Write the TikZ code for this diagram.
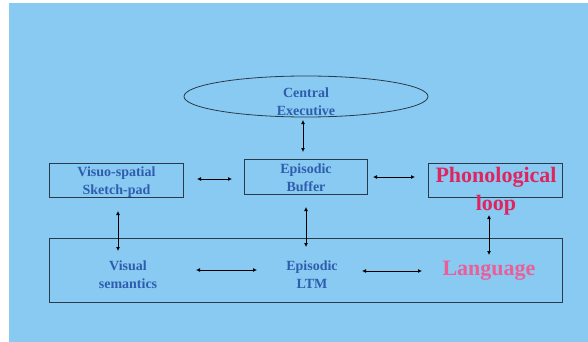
\documentclass[tikz,border=0pt]{standalone}
\usepackage{fontspec}
\setmainfont{Liberation Serif}
\usetikzlibrary{arrows.meta,shapes.geometric}
\definecolor{bg}{HTML}{88CAF1}
\definecolor{txtblue}{HTML}{2F5DAE}
\definecolor{phon}{HTML}{E0245F}
\definecolor{lang}{HTML}{EB5E98}
\definecolor{edge}{HTML}{2B3A4A}
\begin{document}
\begin{tikzpicture}[x=1pt,y=-1pt,
  box/.style={draw=edge, line width=0.9pt, inner sep=0pt, anchor=north west},
  lbl/.style={text=txtblue, font=\bfseries\fontsize{14}{18}\selectfont, align=center, inner sep=0pt},
  big/.style={font=\bfseries\fontsize{22}{28}\selectfont, align=center, inner sep=0pt},
  arr/.style={{Latex[length=4pt,width=4pt]}-{Latex[length=4pt,width=4pt]}, line width=0.8pt, black}]
\useasboundingbox (0,0) rectangle (588,342);
\fill[white] (0,0) rectangle (588,342);
\fill[bg] (9,3) rectangle (588,342);
% shapes
\node[draw=edge, line width=0.8pt, ellipse, minimum width=244pt, minimum height=41pt, inner sep=0pt] (ce) at (306,96.5) {};
\node[box, minimum width=123pt, minimum height=35pt] (eb) at (244,159) {};
\node[box, minimum width=134pt, minimum height=34pt] (vs) at (49,163) {};
\node[box, minimum width=134pt, minimum height=34pt] (pl) at (428,163) {};
\node[box, minimum width=513pt, minimum height=64pt] (ltm) at (49,238) {};
% texts
\node[lbl] (ceT) at (306,102) {Central\\Executive};
\node[lbl] (ebT) at (306,178) {Episodic\\Buffer};
\node[lbl] (vsT) at (116.5,182) {Visuo-spatial\\Sketch-pad};
\node[big, text=phon] (plT) at (496,191) {Phonological\\loop};
\node[lbl] (vmT) at (128,275) {Visual\\semantics};
\node[lbl] (elT) at (312,274.5) {Episodic\\LTM};
\node[big, text=lang] (lgT) at (489,271) {Language};
% arrow ends
\coordinate (a1s) at (303,120); \coordinate (a1e) at (303,152);
\coordinate (a2s) at (197,179); \coordinate (a2e) at (232,179);
\coordinate (a3s) at (373,177); \coordinate (a3e) at (415,177);
\coordinate (a4s) at (118,211); \coordinate (a4e) at (118,251);
\coordinate (a5s) at (306,207); \coordinate (a5e) at (306,247);
\coordinate (a6s) at (489,215); \coordinate (a6e) at (489,255);
\coordinate (a7s) at (196,270); \coordinate (a7e) at (257,270);
\coordinate (a8s) at (362,271); \coordinate (a8e) at (422,271);
\draw[arr] (a1s) -- (a1e);
\draw[arr] (a2s) -- (a2e);
\draw[arr] (a3s) -- (a3e);
\draw[arr] (a4s) -- (a4e);
\draw[arr] (a5s) -- (a5e);
\draw[arr] (a6s) -- (a6e);
\draw[arr] (a7s) -- (a7e);
\draw[arr] (a8s) -- (a8e);
\end{tikzpicture}
\end{document}
